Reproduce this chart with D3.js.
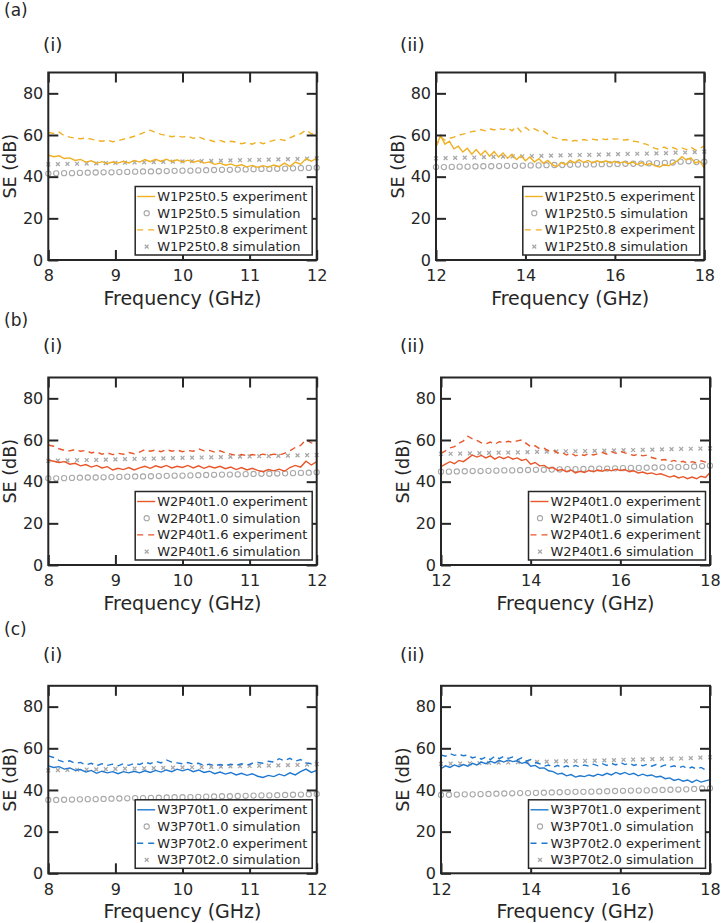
<!DOCTYPE html>
<html lang="en">
<head>
<meta charset="UTF-8">
<script src="https://cdn.jsdelivr.net/npm/d3@7"></script>
<style>
  body { margin: 0; background: #fff; }
  text { font-family: "DejaVu Sans", sans-serif; fill: #262626; }
</style>
</head>
<body>
<svg id="fig" width="721" height="923"></svg>
<script>
// ---- ticks / labels ----
const yTicks = [0, 20, 40, 60, 80];
const xTicksLow = [8, 9, 10, 11, 12];
const xTicksHigh = [12, 14, 16, 18];
const rowLabels = ["(a)", "(b)", "(c)"];
const colLabels = ["(i)", "(ii)"];
const sampleNames = [
  ["W1P25t0.5", "W1P25t0.8"],
  ["W2P40t1.0", "W2P40t1.6"],
  ["W3P70t1.0", "W3P70t2.0"]
];
const rowColors = ["#F0B021", "#E8562A", "#1F78CF"];

// ---- measured SE (dB), 8-12 GHz in 0.08 GHz steps, 12-18 GHz in 0.1 GHz steps ----
const a1_exp1 = [50.4,49.6,50.0,48.7,49.0,47.8,48.3,47.0,47.6,46.4,47.2,46.3,47.0,46.5,47.4,46.6,47.8,47.0,48.2,47.2,48.3,47.3,48.4,47.2,48.1,47.0,47.9,46.9,47.6,46.5,47.1,45.9,46.5,45.5,46.1,45.1,45.7,44.7,45.4,44.5,45.3,44.6,45.6,44.8,46.5,44.9,47.0,46.0,48.6,47.4,48.9];
const a1_exp2 = [61.2,60.8,61.4,59.6,59.0,58.5,58.2,58.6,58.0,57.4,57.0,57.5,56.8,57.2,58.0,58.6,59.4,60.3,61.4,62.3,61.2,60.3,59.8,59.2,59.6,59.0,59.5,58.4,59.2,58.0,57.6,56.8,57.4,56.5,57.0,56.6,55.8,56.4,55.6,56.8,55.8,56.6,57.4,58.0,57.4,58.6,59.8,60.6,62.4,60.6,60.2];
const a2_exp1 = [54.4,59.8,55.6,57.0,53.4,54.6,51.8,53.6,50.8,53.0,50.4,52.4,49.8,52.0,49.4,51.4,48.8,50.8,48.2,50.0,47.6,49.4,47.0,48.6,46.4,47.8,45.8,44.8,46.8,45.8,47.8,46.6,48.2,46.8,47.8,46.6,47.6,46.8,47.6,46.6,47.4,46.4,47.2,46.2,47.0,45.8,46.8,45.6,46.4,45.2,44.6,45.8,45.2,46.4,47.6,49.6,48.0,49.0,46.6,47.4,44.0];
const a2_exp2 = [54.4,59.0,57.6,58.4,59.0,59.8,60.4,60.8,61.6,62.0,62.6,62.0,63.0,62.4,63.2,62.6,63.4,62.0,64.0,61.6,63.6,62.0,63.0,61.8,62.0,60.4,59.0,58.4,57.6,57.8,56.8,57.4,57.0,57.8,57.4,58.0,57.6,58.2,57.8,58.4,58.0,58.2,57.6,57.8,57.0,56.8,56.0,55.6,54.6,53.6,53.0,54.2,53.2,54.0,53.0,53.8,53.0,54.2,52.8,53.6,54.6];
const b1_exp1 = [50.4,49.8,49.2,49.6,48.4,48.8,47.6,48.2,47.0,47.8,46.6,47.2,45.6,46.4,45.8,46.8,45.6,46.6,47.4,46.4,47.6,46.8,47.8,46.6,47.4,46.8,47.8,46.6,47.6,46.4,47.4,46.6,47.4,46.2,47.0,45.8,46.8,45.6,46.4,45.4,44.8,45.8,45.2,46.0,45.0,46.8,47.8,47.0,49.8,48.0,49.6];
const b1_exp2 = [57.6,57.0,55.8,55.0,54.8,55.4,54.6,55.0,53.8,54.4,53.2,53.8,53.0,53.6,53.2,54.0,53.4,54.2,55.4,54.6,55.2,54.4,55.4,54.6,55.2,54.4,55.0,54.6,55.8,54.8,55.0,54.2,54.8,53.8,53.2,52.6,53.0,52.4,53.0,52.6,53.2,52.6,53.2,52.8,53.6,54.8,56.4,57.4,60.2,58.6,58.2];
const b2_exp1 = [47.2,48.4,49.6,48.6,50.2,49.6,51.2,52.8,51.8,52.6,51.4,52.4,50.8,52.0,51.0,52.0,50.8,51.4,50.2,50.8,48.4,49.2,47.6,47.8,46.4,46.8,45.4,45.8,44.8,45.6,44.2,45.0,44.4,45.4,44.8,45.6,45.0,45.8,45.2,46.0,45.4,45.8,44.8,45.2,44.2,44.6,43.8,44.2,43.4,43.8,43.0,42.2,42.8,41.8,42.4,41.4,42.2,41.4,42.6,42.0,44.4];
const b2_exp2 = [53.6,54.8,56.2,56.8,58.4,59.6,61.8,60.6,59.8,58.6,58.2,59.0,58.0,59.2,58.6,59.4,58.8,59.6,60.0,58.4,56.8,57.2,55.8,56.0,54.8,55.2,53.8,54.0,52.8,53.8,52.4,53.2,52.6,53.6,52.8,53.4,54.0,53.2,54.4,53.6,54.6,53.8,53.2,52.6,53.2,52.4,52.8,51.6,51.0,50.4,50.6,49.6,50.2,49.2,49.8,48.8,49.6,49.0,50.0,49.4,50.4];
const c1_exp1 = [51.6,50.8,51.2,50.0,50.6,49.4,49.8,48.6,49.4,48.0,49.0,48.2,48.8,47.8,48.8,48.2,49.0,48.2,49.2,48.4,49.4,48.6,49.6,48.8,50.0,49.2,50.0,48.8,49.6,48.4,49.0,47.8,48.6,47.6,48.4,47.2,48.0,47.0,47.8,46.6,46.0,47.0,46.4,47.6,46.8,48.2,47.2,48.8,50.0,48.4,49.4];
const c1_exp2 = [56.4,55.6,54.2,53.4,54.0,52.8,53.2,52.0,52.8,51.6,52.6,51.8,52.4,51.6,52.6,51.8,52.8,52.2,53.4,52.6,53.8,53.0,54.4,53.4,53.0,52.6,53.2,52.4,52.8,51.8,52.4,51.6,52.2,51.6,52.4,51.8,52.6,51.8,52.8,53.2,52.8,53.8,53.4,55.0,54.0,55.2,53.8,54.6,53.0,52.6,54.0];
const c2_exp1 = [50.2,51.6,50.8,52.0,51.2,52.2,51.4,52.8,52.0,53.4,52.6,53.8,53.0,54.2,53.4,54.4,53.6,54.0,52.8,53.4,51.4,51.8,50.4,50.6,49.2,48.8,47.6,48.0,46.8,47.4,46.2,46.8,46.4,47.2,46.6,47.6,47.0,48.0,47.2,48.4,47.6,48.4,47.4,48.0,46.8,47.6,46.8,47.2,46.2,46.6,45.4,45.8,44.6,45.2,44.2,44.8,43.6,44.8,43.8,44.4,45.0];
const c2_exp2 = [56.8,56.2,57.4,56.6,57.2,56.4,56.8,55.4,56.0,54.8,55.8,54.6,56.2,55.0,56.2,55.2,55.8,54.4,55.4,53.8,54.6,53.2,52.6,51.4,52.0,50.8,51.8,50.6,51.6,50.8,51.8,51.0,52.0,51.4,52.4,51.6,52.6,51.8,52.8,52.0,53.2,52.2,52.8,51.8,52.4,51.6,52.4,51.4,52.2,51.2,52.0,51.0,51.6,50.6,51.4,50.2,51.0,50.0,50.8,49.6,49.8];

// ---- simulated SE (dB): circles (35 pts) and crosses (29 pts) over each band ----
const a1_sim1 = [41.5,41.6,41.7,41.7,41.8,41.9,42.0,42.1,42.1,42.2,42.3,42.4,42.5,42.5,42.6,42.7,42.8,42.9,42.9,43.0,43.1,43.2,43.3,43.3,43.4,43.5,43.6,43.7,43.7,43.8,43.9,44.0,44.1,44.2,44.3];
const a1_sim2 = [45.9,46.0,46.1,46.2,46.3,46.4,46.5,46.6,46.7,46.8,46.9,47.0,47.1,47.2,47.3,47.4,47.5,47.6,47.7,47.8,47.9,48.0,48.1,48.2,48.3,48.4,48.5,48.7,48.8];
const a2_sim1 = [44.6,44.6,44.7,44.8,44.8,44.9,45.0,45.0,45.1,45.2,45.2,45.3,45.4,45.4,45.5,45.6,45.6,45.7,45.8,45.8,45.9,46.0,46.0,46.1,46.2,46.2,46.3,46.4,46.5,46.6,46.8,47.2,47.4,47.0,47.2];
const a2_sim2 = [48.8,48.9,49.0,49.1,49.2,49.4,49.5,49.6,49.7,49.8,49.9,50.0,50.1,50.2,50.3,50.4,50.5,50.6,50.7,50.8,50.9,51.0,51.1,51.2,51.3,51.5,51.6,51.8,52.0];
const b1_sim1 = [41.6,41.6,41.7,41.8,41.9,42.0,42.0,42.1,42.2,42.3,42.4,42.5,42.5,42.6,42.7,42.8,42.9,42.9,43.0,43.1,43.2,43.3,43.4,43.4,43.5,43.6,43.7,43.8,43.8,43.9,44.0,44.1,44.2,44.3,44.5];
const b1_sim2 = [50.0,50.1,50.2,50.3,50.4,50.5,50.6,50.7,50.8,50.9,51.0,51.1,51.2,51.3,51.4,51.5,51.6,51.7,51.8,51.9,52.0,52.1,52.2,52.3,52.4,52.5,52.6,52.7,52.8];
const b2_sim1 = [44.8,44.8,44.9,45.0,45.1,45.1,45.2,45.3,45.4,45.4,45.5,45.6,45.7,45.7,45.8,45.9,46.0,46.0,46.1,46.2,46.3,46.3,46.4,46.5,46.6,46.6,46.7,46.8,46.9,47.0,47.0,47.1,47.3,47.5,47.7];
const b2_sim2 = [53.3,53.4,53.5,53.6,53.7,53.8,53.9,54.0,54.1,54.2,54.3,54.4,54.5,54.6,54.6,54.7,54.8,54.9,55.0,55.1,55.2,55.3,55.4,55.5,55.6,55.7,55.8,55.9,56.0];
const c1_sim1 = [35.2,35.2,35.3,35.4,35.5,35.6,35.6,35.7,35.8,35.9,36.0,36.1,36.1,36.2,36.3,36.4,36.5,36.5,36.6,36.7,36.8,36.9,37.0,37.0,37.1,37.2,37.3,37.4,37.4,37.5,37.6,37.7,37.8,37.9,38.1];
const c1_sim2 = [49.4,49.5,49.6,49.7,49.8,49.9,50.0,50.1,50.2,50.3,50.4,50.5,50.6,50.7,50.8,50.9,51.0,51.1,51.2,51.3,51.4,51.5,51.6,51.7,51.8,51.9,52.0,52.2,52.4];
const c2_sim1 = [37.6,37.7,37.8,37.9,37.9,38.0,38.1,38.2,38.3,38.4,38.5,38.5,38.6,38.7,38.8,38.9,39.0,39.1,39.1,39.2,39.3,39.4,39.5,39.6,39.7,39.7,39.8,39.9,40.0,40.1,40.2,40.3,40.5,40.7,40.8];
const c2_sim2 = [52.5,52.6,52.7,52.8,52.9,53.0,53.1,53.2,53.3,53.4,53.5,53.6,53.7,53.8,53.9,54.0,54.1,54.2,54.3,54.5,54.6,54.7,54.8,54.9,55.0,55.1,55.3,55.5,55.7];

// sample grid helper: n evenly spaced frequencies over [lo, hi]
function grid(lo, hi, n) {
  return d3.range(n).map(i => lo + i * (hi - lo) / (n - 1));
}

// frame boxes (px) for each panel
const frames = [
  [{l: 48.3, r: 316.7, t: 72.5, b: 260},   {l: 436, r: 704.3, t: 72.5, b: 260}],
  [{l: 48.3, r: 316.7, t: 377.5, b: 565},  {l: 441, r: 710, t: 377.5, b: 565}],
  [{l: 48.3, r: 316.7, t: 685.8, b: 873.3}, {l: 441, r: 710, t: 685.8, b: 873.3}]
];
const rowLabelY = [16, 326, 635];
const colLabelY = [51, 352, 661];
const colLabelX = [43, 400];

const seriesData = [
  [[a1_exp1, a1_exp2, a1_sim1, a1_sim2], [a2_exp1, a2_exp2, a2_sim1, a2_sim2]],
  [[b1_exp1, b1_exp2, b1_sim1, b1_sim2], [b2_exp1, b2_exp2, b2_sim1, b2_sim2]],
  [[c1_exp1, c1_exp2, c1_sim1, c1_sim2], [c2_exp1, c2_exp2, c2_sim1, c2_sim2]]
];

const svg = d3.select("#fig");
const ink = "#262626";
const simGray = "#A8A8A8";

function crossPath(cx, cy, s) {
  return `M${cx - s},${cy - s}L${cx + s},${cy + s}M${cx - s},${cy + s}L${cx + s},${cy - s}`;
}

function drawPanel(row, col) {
  const f = frames[row][col];
  const [exp1, exp2, sim1, sim2] = seriesData[row][col];
  const lo = col === 0 ? 8 : 12, hi = col === 0 ? 12 : 18;
  const xTicks = col === 0 ? xTicksLow : xTicksHigh;
  const color = rowColors[row];

  const x = d3.scaleLinear().domain([lo, hi]).range([f.l, f.r]);
  const y = d3.scaleLinear().domain([0, 90]).range([f.b, f.t]);
  const g = svg.append("g");

  const line = d3.line().x(d => x(d[0])).y(d => y(d[1]));

  // simulation markers
  const s1 = d3.zip(grid(lo, hi, sim1.length), sim1);
  const s2 = d3.zip(grid(lo, hi, sim2.length), sim2);
  g.append("g").selectAll("circle").data(s1).join("circle")
    .attr("cx", d => x(d[0])).attr("cy", d => y(d[1])).attr("r", 2.6)
    .attr("fill", "none").attr("stroke", simGray).attr("stroke-width", 1.1);
  g.append("g").selectAll("path").data(s2).join("path")
    .attr("d", d => crossPath(x(d[0]), y(d[1]), 1.9))
    .attr("stroke", simGray).attr("stroke-width", 1.3);

  // experiment curves
  g.append("path").datum(d3.zip(grid(lo, hi, exp1.length), exp1))
    .attr("d", line).attr("fill", "none").attr("stroke", color).attr("stroke-width", 1.4);
  g.append("path").datum(d3.zip(grid(lo, hi, exp2.length), exp2))
    .attr("d", line).attr("fill", "none").attr("stroke", color).attr("stroke-width", 1.4)
    .attr("stroke-dasharray", "6,4.5");

  // axes, inward ticks on all four sides
  const ax = g.append("g").attr("class", "axes");
  ax.append("g").attr("transform", `translate(0,${f.b})`)
    .call(d3.axisBottom(x).tickValues(xTicks).tickSize(-10).tickPadding(10).tickFormat(d3.format("d")));
  ax.append("g").attr("transform", `translate(0,${f.t})`)
    .call(d3.axisTop(x).tickValues(xTicks).tickSize(-10).tickFormat(""));
  ax.append("g").attr("transform", `translate(${f.l},0)`)
    .call(d3.axisLeft(y).tickValues(yTicks).tickSize(-10).tickPadding(5));
  ax.append("g").attr("transform", `translate(${f.r},0)`)
    .call(d3.axisRight(y).tickValues(yTicks).tickSize(-10).tickFormat(""));
  ax.selectAll(".domain").remove();
  ax.selectAll(".tick line").attr("stroke", ink).attr("stroke-width", 2);
  ax.selectAll(".tick text").attr("fill", ink).style("font-size", "16px")
    .style("font-family", '"DejaVu Sans", sans-serif');

  g.append("rect").attr("x", f.l).attr("y", f.t)
    .attr("width", f.r - f.l).attr("height", f.b - f.t)
    .attr("fill", "none").attr("stroke", ink).attr("stroke-width", 2);

  // axis titles
  g.append("text").attr("x", (f.l + f.r) / 2).attr("y", f.b + 45)
    .attr("text-anchor", "middle").style("font-size", "19px").text("Frequency (GHz)");
  g.append("text").attr("transform", `translate(${f.l - 32.5},${(f.t + f.b) / 2}) rotate(-90)`)
    .attr("text-anchor", "middle").style("font-size", "17.5px").text("SE (dB)");

  // legend
  const lw = 177, lh = 68.5;
  const lx = f.r - 4.5 - lw, ly = f.b - 5 - lh;
  const leg = g.append("g");
  leg.append("rect").attr("x", lx).attr("y", ly).attr("width", lw).attr("height", lh)
    .attr("fill", "#fff").attr("stroke", ink).attr("stroke-width", 1.5);
  const names = sampleNames[row];
  const entries = [
    {label: names[0] + " experiment", kind: "solid"},
    {label: names[0] + " simulation", kind: "circle"},
    {label: names[1] + " experiment", kind: "dash"},
    {label: names[1] + " simulation", kind: "cross"}
  ];
  entries.forEach((e, i) => {
    const cy = ly + 10 + i * 16.7;
    const sx0 = lx + 2, sx1 = lx + 20, sc = lx + 11.5;
    if (e.kind === "solid") {
      leg.append("line").attr("x1", sx0).attr("x2", sx1).attr("y1", cy).attr("y2", cy)
        .attr("stroke", color).attr("stroke-width", 1.4);
    } else if (e.kind === "dash") {
      leg.append("line").attr("x1", sx0).attr("x2", sx1).attr("y1", cy).attr("y2", cy)
        .attr("stroke", color).attr("stroke-width", 1.4).attr("stroke-dasharray", "6,5");
    } else if (e.kind === "circle") {
      leg.append("circle").attr("cx", sc).attr("cy", cy).attr("r", 2.6)
        .attr("fill", "none").attr("stroke", simGray).attr("stroke-width", 1.1);
    } else {
      leg.append("path").attr("d", crossPath(sc, cy, 1.9))
        .attr("stroke", simGray).attr("stroke-width", 1.3);
    }
    leg.append("text").attr("x", lx + 22).attr("y", cy).attr("dy", "0.35em")
      .style("font-size", "13px").text(e.label);
  });

  // sub-panel label
  svg.append("text").attr("x", colLabelX[col]).attr("y", colLabelY[row])
    .style("font-size", "18.5px").text(colLabels[col]);
}

rowLabels.forEach((lab, row) => {
  svg.append("text").attr("x", 4).attr("y", rowLabelY[row])
    .style("font-size", "17px").text(lab);
  drawPanel(row, 0);
  drawPanel(row, 1);
});
</script>
</body>
</html>
